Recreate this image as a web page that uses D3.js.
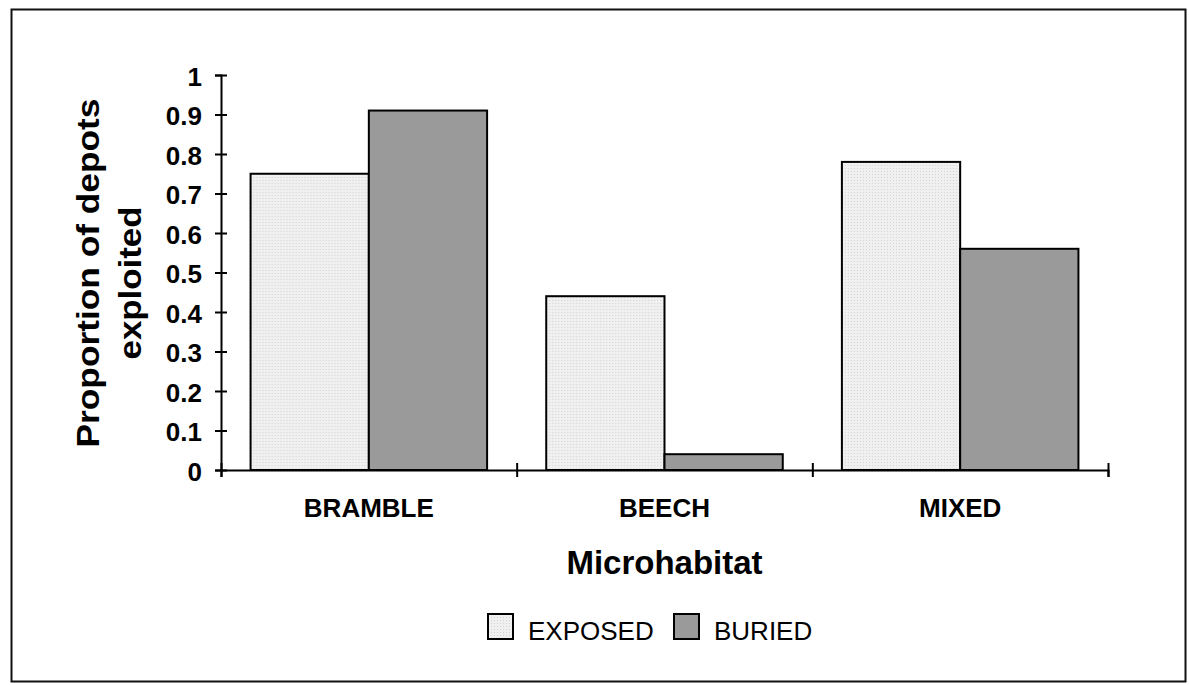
<!DOCTYPE html>
<html>
<head>
<meta charset="utf-8">
<script src="https://cdn.jsdelivr.net/npm/d3@7"></script>
<style>
  body { margin: 0; background: #fff; }
  svg { display: block; font-family: "Liberation Sans", Arial, Helvetica, sans-serif; }
</style>
</head>
<body>
<svg id="chart" width="1189" height="685"></svg>
<script>
// data
const categories = ['BRAMBLE', 'BEECH', 'MIXED']
const seriesNames = ['EXPOSED', 'BURIED']
const exposed = [0.75, 0.44, 0.78]
const buried = [0.91, 0.04, 0.56]
const yTicks = [0, 0.1, 0.2, 0.3, 0.4, 0.5, 0.6, 0.7, 0.8, 0.9, 1]
const yTickLabels = ['0', '0.1', '0.2', '0.3', '0.4', '0.5', '0.6', '0.7', '0.8', '0.9', '1']

const fills = { EXPOSED: 'url(#dots)', BURIED: '#9a9a9a' }

const svg = d3.select('#chart')

//stipple fill for the exposed bars
const pat = svg.append('defs').append('pattern')
    .attr('id', 'dots')
    .attr('width', 3)
    .attr('height', 3)
    .attr('patternUnits', 'userSpaceOnUse')
pat.append('rect').attr('width', 3).attr('height', 3).attr('fill', '#f0f0f0')
pat.append('rect').attr('width', 1).attr('height', 1).attr('fill', '#d2d2d2')

//outer frame
svg.append('rect')
    .attr('x', 11.5)
    .attr('y', 9.5)
    .attr('width', 1174)
    .attr('height', 672)
    .attr('fill', 'none')
    .attr('stroke', '#111')
    .attr('stroke-width', 2)

const plotLeft = 221, plotRight = 1108, plotTop = 75, plotBottom = 470

const x0 = d3.scaleBand()
    .domain(categories)
    .range([plotLeft, plotRight])
    .paddingInner(0.2)
    .paddingOuter(0.1)

const x1 = d3.scaleBand()
    .domain(seriesNames)
    .range([0, x0.bandwidth()])

const xEdges = d3.scaleLinear()
    .domain([0, categories.length])
    .range([plotLeft, plotRight])

const y = d3.scaleLinear()
    .domain([0, 1])
    .range([plotBottom, plotTop])

//bars
const rows = categories.map((c, i) => ({ cat: c, EXPOSED: exposed[i], BURIED: buried[i] }))

svg.append('g').selectAll('g')
    .data(rows)
    .enter().append('g')
    .attr('transform', d => `translate(${x0(d.cat)}, 0)`)
    .selectAll('rect')
    .data(d => seriesNames.map(s => ({ key: s, value: d[s] })))
    .enter().append('rect')
    .attr('x', d => x1(d.key))
    .attr('y', d => y(d.value))
    .attr('width', x1.bandwidth())
    .attr('height', d => y(0) - y(d.value))
    .attr('fill', d => fills[d.key])
    .attr('stroke', '#000')
    .attr('stroke-width', 2)

//y axis
const yAxis = svg.append('g')
    .attr('transform', `translate(${plotLeft}, 0)`)
    .call(d3.axisLeft(y)
        .tickValues(yTicks)
        .tickFormat((d, i) => yTickLabels[i])
        .tickSize(6)
        .tickPadding(13))
yAxis.select('.domain').attr('stroke', '#000').attr('stroke-width', 2)
yAxis.selectAll('.tick line').attr('x1', -6).attr('x2', 6).attr('stroke-width', 2)
yAxis.selectAll('.tick text')
    .attr('font-size', '26px')
    .attr('font-weight', 'bold')
    .attr('fill', '#000')
    .attr('dy', '0.4em')

//x axis line with ticks between categories
const xAxis = svg.append('g')
    .attr('transform', `translate(0, ${plotBottom})`)
    .call(d3.axisBottom(xEdges)
        .tickValues(d3.range(categories.length + 1))
        .tickFormat('')
        .tickSizeOuter(0)
        .tickSize(7))
xAxis.select('.domain').attr('stroke', '#000').attr('stroke-width', 2)
xAxis.selectAll('.tick line').attr('y1', -7).attr('stroke-width', 2)

//category labels
const xLabels = svg.append('g')
    .attr('transform', `translate(0, ${plotBottom})`)
    .call(d3.axisBottom(x0).tickSize(0))
xLabels.select('.domain').remove()
xLabels.selectAll('.tick text')
    .attr('y', 47)
    .attr('dy', null)
    .attr('font-size', '26px')
    .attr('font-weight', 'bold')
    .attr('fill', '#000')

//axis titles
svg.append('text')
    .attr('x', (plotLeft + plotRight) / 2)
    .attr('y', 574)
    .attr('text-anchor', 'middle')
    .attr('font-size', '33px')
    .attr('font-weight', 'bold')
    .text('Microhabitat')

const yTitle = svg.append('g')
    .attr('font-size', '31px')
    .attr('font-weight', 'bold')
    .attr('text-anchor', 'middle')
yTitle.append('text')
    .attr('transform', 'translate(99, 273) rotate(-90)')
    .attr('textLength', 349)
    .attr('lengthAdjust', 'spacingAndGlyphs')
    .text('Proportion of depots')
yTitle.append('text')
    .attr('transform', 'translate(141, 283) rotate(-90)')
    .attr('textLength', 153)
    .attr('lengthAdjust', 'spacingAndGlyphs')
    .text('exploited')

//legend
const legendX = [488, 674]
const legend = svg.append('g')
    .selectAll('g')
    .data(seriesNames)
    .enter().append('g')
    .attr('transform', (d, i) => `translate(${legendX[i]}, 614)`)
legend.append('rect')
    .attr('width', 25)
    .attr('height', 25)
    .attr('fill', d => fills[d])
    .attr('stroke', '#000')
    .attr('stroke-width', 2)
legend.append('text')
    .attr('x', 40)
    .attr('y', 26)
    .attr('font-size', '26px')
    .text(d => d)
</script>
</body>
</html>
